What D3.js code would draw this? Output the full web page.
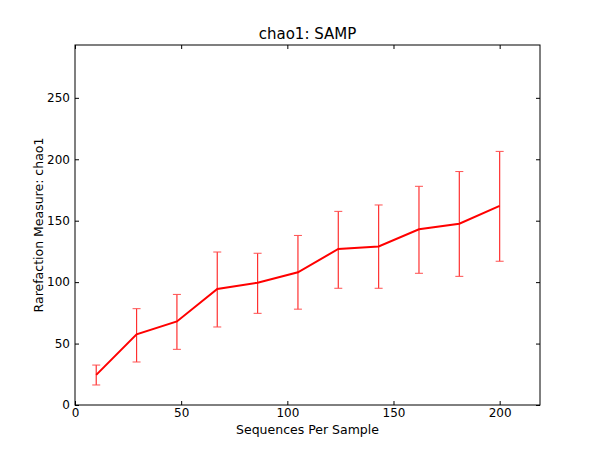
<!DOCTYPE html>
<meta charset="utf-8">
<script src="https://d3js.org/d3.v7.min.js"></script>
<style>
  body { margin: 0; background: #fff; }
  text { font-family: "DejaVu Sans", sans-serif; }
</style>
<body>
<svg id="svg" width="600" height="450"></svg>
<script>
// rarefaction data
var seqs  = [10, 29, 48, 67, 86, 105, 124, 143, 162, 181, 200];
var chao  = [24.5, 57.5, 68, 94.5, 99.5, 108, 127, 129, 143, 147.5, 162];
var lower = [16.3, 35, 45.3, 63.5, 74.6, 78, 95, 95, 107.2, 104.7, 117];
var upper = [32.5, 78.4, 90, 124.5, 123.5, 138, 157.6, 162.8, 178, 190, 206.4];
var xTicks = [0, 50, 100, 150, 200];
var yTicks = [0, 50, 100, 150, 200, 250];

var svg = d3.select("svg");
// plot box (note: "top" is taken by window.top)
var pLeft = 75, pRight = 540, pTop = 45, pBottom = 405;

var x = d3.scaleLinear().domain([0, 219]).range([pLeft, pRight]);
var y = d3.scaleLinear().domain([0, 293]).range([pBottom, pTop]);

// error bars
var g = svg.append("g");
seqs.forEach(function(s, i) {
  g.append("line")
    .attr("x1", x(s)).attr("x2", x(s))
    .attr("y1", y(lower[i])).attr("y2", y(upper[i]))
    .attr("stroke", "#ff3030").attr("stroke-width", 1.2);
  [lower[i], upper[i]].forEach(function(v) {
    g.append("line")
      .attr("x1", x(s) - 4).attr("x2", x(s) + 4)
      .attr("y1", y(v)).attr("y2", y(v))
      .attr("stroke", "#ff5050").attr("stroke-width", 1);
  });
});

// main line
var line = d3.line()
  .x(function(d, i) { return x(seqs[i]); })
  .y(function(d) { return y(d); });
svg.append("path")
  .datum(chao)
  .attr("d", line)
  .attr("fill", "none")
  .attr("stroke", "red")
  .attr("stroke-width", 2);

// axes with inward ticks, matplotlib classic style
svg.append("g").attr("transform", "translate(0," + pBottom + ")")
  .call(d3.axisBottom(x).tickValues(xTicks).tickSizeInner(-4).tickSizeOuter(0).tickPadding(3));
svg.append("g").attr("transform", "translate(0," + pTop + ")")
  .call(d3.axisTop(x).tickValues(xTicks).tickSizeInner(-4).tickSizeOuter(0).tickFormat(""));
svg.append("g").attr("transform", "translate(" + pLeft + ",0)")
  .call(d3.axisLeft(y).tickValues(yTicks).tickSizeInner(-4).tickSizeOuter(0).tickPadding(5));
svg.append("g").attr("transform", "translate(" + pRight + ",0)")
  .call(d3.axisRight(y).tickValues(yTicks).tickSizeInner(-4).tickSizeOuter(0).tickFormat(""));

svg.selectAll(".domain").remove();
svg.selectAll(".tick text").attr("font-size", 12).attr("fill", "#000")
  .style("font-family", "DejaVu Sans, sans-serif");
svg.selectAll(".tick line").attr("stroke", "#000");

// frame
svg.append("rect")
  .attr("x", pLeft).attr("y", pTop)
  .attr("width", pRight - pLeft).attr("height", pBottom - pTop)
  .attr("fill", "none").attr("stroke", "#000").attr("stroke-width", 1);

// labels
svg.append("text").attr("x", (pLeft + pRight) / 2).attr("y", 39)
  .attr("text-anchor", "middle").attr("font-size", 15).text("chao1: SAMP");
svg.append("text").attr("x", (pLeft + pRight) / 2).attr("y", 434)
  .attr("text-anchor", "middle").attr("font-size", 12.5).text("Sequences Per Sample");
svg.append("text")
  .attr("transform", "translate(43," + (pTop + pBottom) / 2 + ") rotate(-90)")
  .attr("text-anchor", "middle").attr("font-size", 12.5).text("Rarefaction Measure: chao1");
</script>
</body>
